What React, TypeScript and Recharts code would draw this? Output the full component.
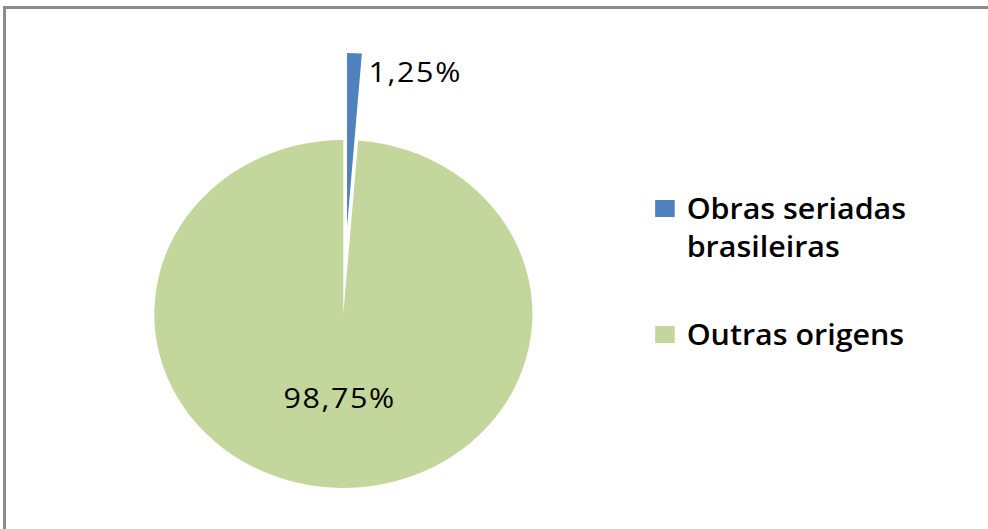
import { Legend, Pie, PieChart, Cell } from 'recharts'

const categories = ['Obras seriadas brasileiras', 'Outras origens']
const shares = [1.25, 98.75]
const legendLines = [['Obras seriadas', 'brasileiras'], ['Outras origens']]
const colors = ['#4F81BD', '#C3D69B']

const data = categories.map((name, i) => ({ name, value: shares[i] }))

// the reference is stretched horizontally, so draw a round pie and scale it on x
const STRETCH = 1.0865
const CX = 316
const CY = 314
const RADIUS = 174
const EXPLODE = 87
const RAD = Math.PI / 180

const blueMid = 90 - (shares[0] / 100) * 360 / 2
const cx2 = CX + EXPLODE * Math.cos(blueMid * RAD)
const cy2 = CY - EXPLODE * Math.sin(blueMid * RAD)

const fmt = (v: number) => `${v.toFixed(2).replace('.', ',')}%`

const labelStyle = { fontFamily: '"Open Sans", sans-serif', fontSize: 28, letterSpacing: 1.5, fill: '#000' }

function innerLabel(p: any) {
  if (p.index !== 1) return null
  const r = p.outerRadius * 0.483
  const x = p.cx + r * Math.cos(-p.midAngle * RAD)
  const y = p.cy + r * Math.sin(-p.midAngle * RAD)
  return (
    <text x={x} y={y} textAnchor="middle" dominantBaseline="central" style={labelStyle}>
      {fmt(p.value)}
    </text>
  )
}

function outerLabel(p: any) {
  if (p.index !== 0) return null
  const x = p.cx + p.outerRadius * Math.cos(-p.midAngle * RAD)
  const y = p.cy + p.outerRadius * Math.sin(-p.midAngle * RAD)
  return (
    <text x={x + 13} y={y + 29} textAnchor="start" style={labelStyle}>
      {fmt(p.value)}
    </text>
  )
}

function LegendBox() {
  return (
    <div style={{ fontFamily: '"Open Sans", sans-serif', fontSize: 28, fontWeight: 600, lineHeight: '38px', color: '#000' }}>
      {categories.map((name, i) => (
        <div key={name} style={{ display: 'flex', alignItems: 'flex-start', marginBottom: i === 0 ? 50 : 0 }}>
          <span style={{ display: 'inline-block', width: 18, height: 17, marginTop: 11, marginRight: 11, background: colors[i] }} />
          <span>
            {legendLines[i].map((line) => (
              <div key={line}>{line}</div>
            ))}
          </span>
        </div>
      ))}
    </div>
  )
}

export default function App() {
  return (
    <div style={{ position: 'absolute', left: 0, top: 0, width: 988, height: 529, overflow: 'hidden', background: '#fff' }}>
      <div style={{ position: 'absolute', left: 3, top: 6, width: 1100, height: 700, border: '3px solid #8c8c8c' }} />
      <div style={{ position: 'absolute', left: 0, top: 0, transform: `scaleX(${STRETCH})`, transformOrigin: '0 0' }}>
        <PieChart width={909} height={529} margin={{ top: 0, right: 0, bottom: 0, left: 0 }}>
          <Pie
            data={data}
            dataKey="value"
            nameKey="name"
            cx={CX}
            cy={CY}
            outerRadius={RADIUS}
            startAngle={90}
            endAngle={-270}
            stroke="none"
            label={innerLabel}
            labelLine={false}
            isAnimationActive={false}
          >
            {data.map((d, i) => (
              <Cell key={d.name} fill={i === 1 ? colors[i] : 'none'} />
            ))}
          </Pie>
          <Pie
            data={data}
            dataKey="value"
            nameKey="name"
            cx={cx2}
            cy={cy2}
            outerRadius={RADIUS}
            startAngle={90}
            endAngle={-270}
            stroke="none"
            label={outerLabel}
            labelLine={false}
            isAnimationActive={false}
          >
            {data.map((d, i) => (
              <Cell key={d.name} fill={i === 0 ? colors[i] : 'none'} />
            ))}
          </Pie>
          <Legend
            layout="vertical"
            align="right"
            verticalAlign="top"
            content={() => <LegendBox />}
            wrapperStyle={{ position: 'absolute', left: 603, top: 189, width: 300 }}
          />
        </PieChart>
      </div>
    </div>
  )
}
